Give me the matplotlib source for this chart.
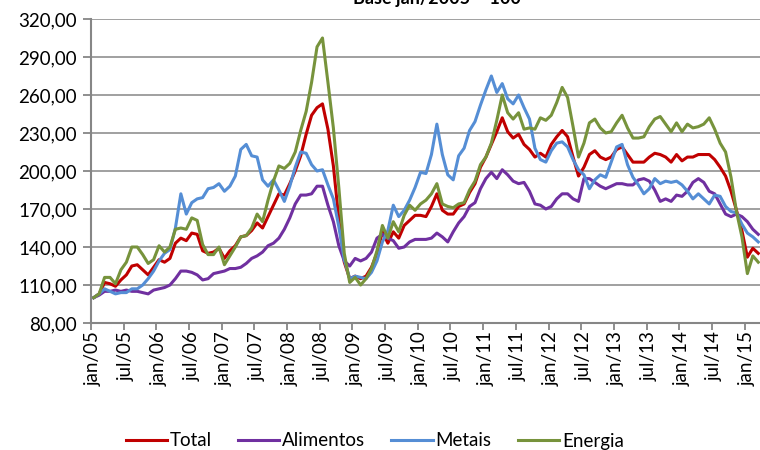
import numpy as np
import matplotlib as mpl
mpl.use('Agg')
from matplotlib import pyplot as plt

# monthly index values, jan/2005 = 100 (jan/05 .. mar/15)
total = [100, 103, 112, 111, 109, 114, 118, 125, 126, 122, 118, 124,
         130, 128, 131, 143, 147, 145, 151, 150, 137, 135, 136, 139,
         131, 137, 141, 148, 149, 153, 159, 155, 164, 173, 182, 181,
         190, 200, 212, 229, 244, 250, 253, 233, 204, 162, 128, 115,
         117, 115, 117, 124, 135, 152, 143, 152, 147, 157, 161, 165,
         165, 164, 172, 182, 169, 166, 166, 172, 174, 183, 190, 203,
         211, 221, 231, 242, 231, 226, 229, 221, 217, 211, 214, 211,
         221, 227, 232, 227, 211, 196, 203, 213, 216, 211, 209, 211,
         217, 219, 213, 207, 207, 207, 211, 214, 213, 211, 207, 213,
         208, 211, 211, 213, 213, 213, 209, 203, 196, 184, 169, 153,
         132, 139, 135]

alimentos = [100, 102, 105, 105, 106, 105, 106, 105, 105, 104, 103, 106,
             107, 108, 110, 115, 121, 121, 120, 118, 114, 115, 119, 120,
             121, 123, 123, 124, 127, 131, 133, 136, 141, 143, 147, 154,
             163, 174, 181, 181, 182, 188, 188, 173, 160, 141, 129, 125,
             131, 129, 131, 136, 147, 150, 147, 145, 139, 140, 144, 146,
             146, 146, 147, 151, 148, 144, 152, 159, 164, 172, 175, 186,
             194, 199, 194, 201, 197, 192, 190, 191, 184, 174, 173, 170,
             172, 178, 182, 182, 178, 176, 194, 194, 191, 188, 186, 188,
             190, 190, 189, 189, 193, 194, 192, 185, 176, 178, 176, 181,
             180, 184, 191, 194, 191, 184, 182, 174, 166, 164, 166, 164,
             160, 154, 150]

metais = [100, 103, 107, 105, 103, 104, 104, 107, 107, 110, 115, 121,
          129, 135, 138, 155, 182, 166, 175, 178, 179, 186, 187, 190,
          184, 188, 196, 217, 221, 212, 211, 193, 188, 193, 185, 176,
          188, 203, 215, 214, 205, 200, 201, 189, 178, 156, 130, 115,
          117, 116, 115, 120, 129, 144, 153, 173, 164, 169, 177, 187,
          199, 198, 213, 237, 213, 197, 193, 212, 218, 232, 239, 252,
          264, 275, 262, 269, 257, 253, 260, 250, 241, 218, 209, 207,
          216, 222, 223, 219, 209, 201, 197, 186, 193, 197, 195, 207,
          219, 221, 205, 195, 189, 182, 186, 194, 190, 192, 191, 192,
          189, 184, 178, 182, 178, 174, 181, 180, 172, 168, 167, 158,
          151, 148, 144]

energia = [100, 103, 116, 116, 111, 122, 128, 140, 140, 134, 127, 130,
           141, 136, 140, 154, 155, 154, 163, 161, 142, 134, 134, 140,
           126, 133, 140, 148, 149, 155, 166, 160, 177, 192, 204, 202,
           206, 215, 232, 247, 270, 298, 305, 270, 234, 187, 135, 112,
           116, 110, 115, 123, 137, 157, 147, 160, 152, 165, 173, 169,
           174, 177, 182, 190, 174, 172, 171, 174, 175, 185, 192, 205,
           211, 222, 240, 260, 246, 241, 246, 233, 234, 233, 242, 240,
           244, 254, 266, 258, 235, 211, 222, 238, 241, 234, 230, 231,
           238, 244, 234, 226, 226, 227, 235, 241, 243, 237, 231, 238,
           231, 237, 234, 235, 237, 242, 233, 222, 215, 195, 168, 148,
           119, 133, 128]

xlabels = ['jan/05', 'jul/05', 'jan/06', 'jul/06', 'jan/07', 'jul/07',
           'jan/08', 'jul/08', 'jan/09', 'jul/09', 'jan/10', 'jul/10',
           'jan/11', 'jul/11', 'jan/12', 'jul/12', 'jan/13', 'jul/13',
           'jan/14', 'jul/14', 'jan/15']

yticks = [80, 110, 140, 170, 200, 230, 260, 290, 320]

plt.rcParams['font.family'] = ['Lato', 'DejaVu Sans']

fig = plt.figure(figsize=(7.6, 4.5), dpi=100)
ax = fig.add_axes([0.1197, 0.2822, 0.8816, 0.6756])

x = np.arange(len(total))
ax.plot(x, total, color='#C00000', lw=2.2, label='Total')
ax.plot(x, alimentos, color='#7030A0', lw=2.2, label='Alimentos')
ax.plot(x, metais, color='#558ED5', lw=2.2, label='Metais')
ax.plot(x, energia, color='#77933C', lw=2.2, label='Energia')

ax.set_xlim(-0.5, len(total) - 0.5)
ax.set_ylim(80, 320)

# tick marks between categories, labels on the category
ax.set_xticks([6 * k - 0.5 for k in range(len(xlabels))])
ax.set_xticklabels([])
ax.set_xticks([6 * k for k in range(len(xlabels))], minor=True)
ax.set_xticklabels(xlabels, minor=True, rotation=90, fontsize=13.5)
ax.tick_params(axis='x', which='major', length=5, width=1.3, color='#868686', direction='out')
ax.tick_params(axis='x', which='minor', length=0, pad=6)

ax.set_yticks(yticks)
ax.set_yticklabels(['{:.2f}'.format(v).replace('.', ',') for v in yticks], fontsize=13.5)
ax.tick_params(axis='y', length=6, width=1.3, color='#868686', direction='out', pad=4)

ax.grid(axis='y', color='#868686', lw=1.1)
ax.set_axisbelow(True)
for s in ['top', 'right']:
    ax.spines[s].set_visible(False)
for s in ['left', 'bottom']:
    ax.spines[s].set_color('#868686')
    ax.spines[s].set_linewidth(1.5)

fig.text(0.575, 0.991, 'Base jan/2005 = 100', ha='center', va='baseline',
         fontsize=13, fontweight='bold')

fig.legend(loc='center', bbox_to_anchor=(0.493, 0.02), ncol=4, frameon=False,
           fontsize=13.5, handlelength=2.2, handletextpad=0.15, columnspacing=1.4)

plt.savefig('out.png', dpi=100)
